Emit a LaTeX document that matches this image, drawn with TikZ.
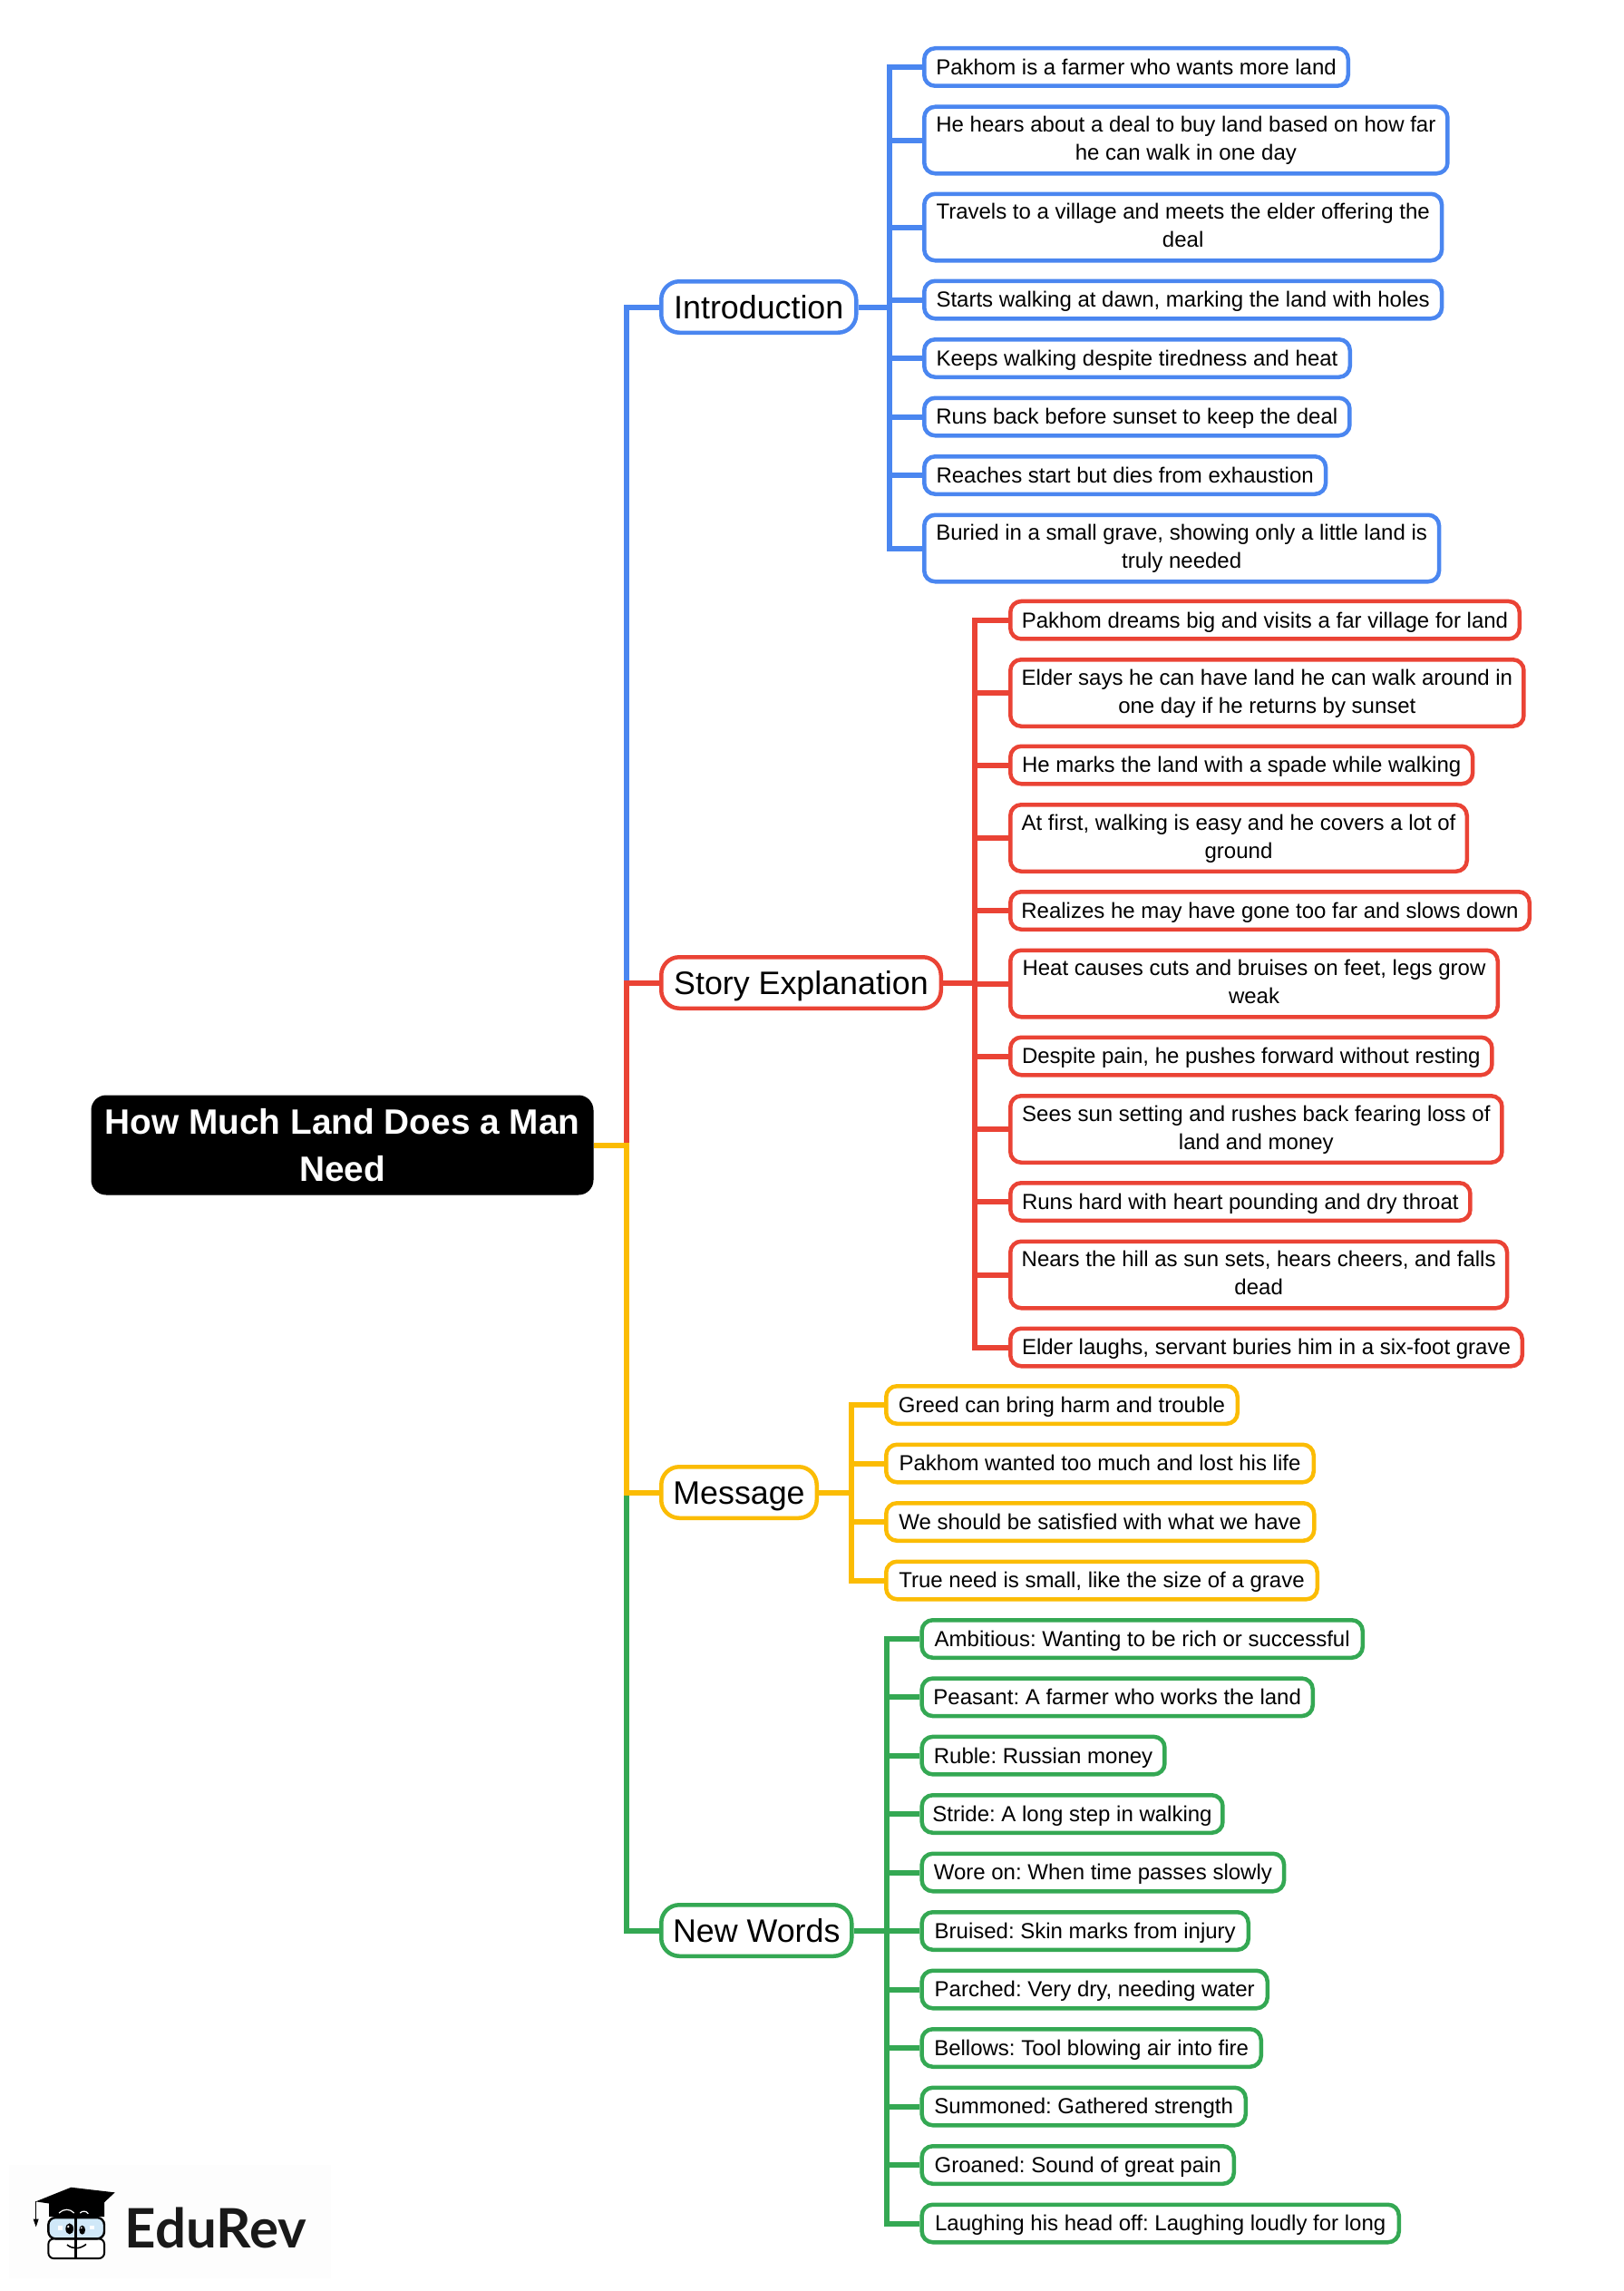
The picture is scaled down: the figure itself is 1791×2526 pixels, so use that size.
\documentclass[tikz,border=0pt]{standalone}
\usepackage{fontspec}
\setmainfont{Liberation Sans}
\newfontfamily\logofont{Lato}
\definecolor{cblue}{HTML}{4A86F0}
\definecolor{cred}{HTML}{EA4335}
\definecolor{cyellow}{HTML}{FBBC04}
\definecolor{cgreen}{HTML}{34A853}
\definecolor{clens}{HTML}{D0E8F8}
\newcommand{\leafstrut}{\rule[-3.3pt]{0pt}{15pt}}
\newcommand{\branchstrut}{\rule[-4.05pt]{0pt}{21pt}}
\newcommand{\rootstrut}{\rule[-0.1pt]{0pt}{25pt}}
\newcommand{\tworow}[2]{\rule{0pt}{12.66pt}#1\\#2\rule[-5.7pt]{0pt}{6pt}}
\tikzset{
  leafbox/.style={draw=#1,line width=2.25pt,rounded corners=6pt,fill=white,inner sep=0pt,align=center,
    font=\fontsize{12}{15.5}\selectfont\frenchspacing,text=black,execute at begin node=\leafstrut,execute at end node=\leafstrut},
  branchbox/.style={draw=#1,line width=2.25pt,rounded corners=10pt,fill=white,inner sep=0pt,align=center,
    font=\fontsize{17.9}{21}\selectfont,text=black,execute at begin node=\branchstrut,execute at end node=\branchstrut},
  rootbox/.style={draw=black,fill=black,line width=0.5pt,rounded corners=8pt,inner sep=0pt,align=center,
    font=\fontsize{19.4}{25.7}\bfseries\selectfont,text=white,execute at begin node=\rootstrut,execute at end node=\rootstrut},
  conn/.style={line width=3pt,line join=miter}
}
\newcommand{\bx}[8]{% style, colour, name, left, right, top, outer height, text
  \node[#1=#2,minimum width={((#5)-(#4)-4.5)*0.5pt},minimum height={((#7)-4.5)*0.5pt}] (#3) at ({((#4)+(#5))/2},{(#6)+(#7)/2}) {#8};}
\begin{document}
\begin{tikzpicture}[x=0.5pt,y=-0.5pt]
\useasboundingbox (0,0) rectangle (1791,2526);
\coordinate (mainsp) at (691,0);
\coordinate (bsp) at (981,0);
\coordinate (rsp) at (1075,0);
\coordinate (ysp) at (939,0);
\coordinate (gsp) at (978,0);
% root and branches
\node[rootbox,minimum width={553*0.5pt},minimum height={109*0.5pt}] (root) at (377.5,1262.5) {How Much Land Does a Man\\Need};
\bx{branchbox}{cblue}{intro}{727}{946.5}{308}{61}{Introduction}
\bx{branchbox}{cred}{story}{727}{1040}{1053}{61}{Story Explanation}
\bx{branchbox}{cyellow}{message}{727}{903}{1615}{61}{Message}
\bx{branchbox}{cgreen}{words}{727}{941.5}{2098}{61}{New Words}
% blue
\bx{leafbox}{cblue}{b1}{1017}{1489}{51}{46}{Pakhom is a farmer who wants more land}
\bx{leafbox}{cblue}{b2}{1017}{1598.7}{115.5}{78}{\tworow{He hears about a deal to buy land based on how far}{he can walk in one day}}
\bx{leafbox}{cblue}{b3}{1017}{1592.3}{211.5}{78}{\tworow{Travels to a village and meets the elder offering the}{deal}}
\bx{leafbox}{cblue}{b4}{1017}{1592.3}{307.5}{46}{Starts walking at dawn, marking the land with holes}
\bx{leafbox}{cblue}{b5}{1017}{1491}{372}{46}{Keeps walking despite tiredness and heat}
\bx{leafbox}{cblue}{b6}{1017}{1490.7}{436.5}{46}{Runs back before sunset to keep the deal}
\bx{leafbox}{cblue}{b7}{1017}{1464.3}{501}{46}{Reaches start but dies from exhaustion}
\bx{leafbox}{cblue}{b8}{1017}{1589.3}{565.5}{78}{\tworow{Buried in a small grave, showing only a little land is}{truly needed}}
% red
\bx{leafbox}{cred}{r1}{1112}{1678}{660.7}{46}{Pakhom dreams big and visits a far village for land}
\bx{leafbox}{cred}{r2}{1112}{1682.7}{725}{78}{\tworow{Elder says he can have land he can walk around in}{one day if he returns by sunset}}
\bx{leafbox}{cred}{r3}{1112}{1626.4}{820.5}{46}{He marks the land with a spade while walking}
\bx{leafbox}{cred}{r4}{1112}{1620}{885}{78}{\tworow{At first, walking is easy and he covers a lot of}{ground}}
\bx{leafbox}{cred}{r5}{1112}{1689}{981}{46}{Realizes he may have gone too far and slows down}
\bx{leafbox}{cred}{r6}{1112}{1654}{1045.5}{78}{\tworow{Heat causes cuts and bruises on feet, legs grow}{weak}}
\bx{leafbox}{cred}{r7}{1112}{1647.7}{1141.5}{46}{Despite pain, he pushes forward without resting}
\bx{leafbox}{cred}{r8}{1112}{1658.7}{1206}{78}{\tworow{Sees sun setting and rushes back fearing loss of}{land and money}}
\bx{leafbox}{cred}{r9}{1112}{1623.7}{1302}{46}{Runs hard with heart pounding and dry throat}
\bx{leafbox}{cred}{r10}{1112}{1664.3}{1366.5}{78}{\tworow{Nears the hill as sun sets, hears cheers, and falls}{dead}}
\bx{leafbox}{cred}{r11}{1112}{1681}{1462.5}{46}{Elder laughs, servant buries him in a six-foot grave}
% yellow
\bx{leafbox}{cyellow}{y1}{975}{1367}{1526}{46}{Greed can bring harm and trouble}
\bx{leafbox}{cyellow}{y2}{975}{1451}{1590.5}{46}{Pakhom wanted too much and lost his life}
\bx{leafbox}{cyellow}{y3}{975}{1451.5}{1655}{46}{We should be satisfied with what we have}
\bx{leafbox}{cyellow}{y4}{975}{1455}{1719.5}{46}{True need is small, like the size of a grave}
% green
\bx{leafbox}{cgreen}{g1}{1014.4}{1505}{1784}{46}{Ambitious: Wanting to be rich or successful}
\bx{leafbox}{cgreen}{g2}{1014.4}{1450}{1848.3}{46}{Peasant: A farmer who works the land}
\bx{leafbox}{cgreen}{g3}{1014.4}{1286.7}{1912.6}{46}{Ruble: Russian money}
\bx{leafbox}{cgreen}{g4}{1014.4}{1350.7}{1977}{46}{Stride: A long step in walking}
\bx{leafbox}{cgreen}{g5}{1014.4}{1418.3}{2041.5}{46}{Wore on: When time passes slowly}
\bx{leafbox}{cgreen}{g6}{1014.4}{1379}{2106}{46}{Bruised: Skin marks from injury}
\bx{leafbox}{cgreen}{g7}{1014.4}{1400}{2170.5}{46}{Parched: Very dry, needing water}
\bx{leafbox}{cgreen}{g8}{1014.4}{1393}{2235}{46}{Bellows: Tool blowing air into fire}
\bx{leafbox}{cgreen}{g9}{1014.4}{1376}{2299.5}{46}{Summoned: Gathered strength}
\bx{leafbox}{cgreen}{g10}{1014.4}{1363}{2364}{46}{Groaned: Sound of great pain}
\bx{leafbox}{cgreen}{g11}{1014.4}{1545}{2428.5}{46}{Laughing his head off: Laughing loudly for long}
% connectors
\draw[conn,cblue] (root.east) -- (mainsp |- root.east) |- (intro.west);
\draw[conn,cred] (root.east) -- (mainsp |- root.east) |- (story.west);
\draw[conn,cgreen] (root.east) -- (mainsp |- root.east) |- (words.west);
\draw[conn,cyellow] (root.east) -- (mainsp |- root.east) |- (message.west);
\draw[conn,cblue] (intro.east) -- (bsp |- intro.east);
\foreach \n in {b1,b2,b3,b4,b5,b6,b7,b8} \draw[conn,cblue] (bsp |- intro.east) |- (\n.west);
\draw[conn,cred] (story.east) -- (rsp |- story.east);
\foreach \n in {r1,r2,r3,r4,r5,r6,r7,r8,r9,r10,r11} \draw[conn,cred] (rsp |- story.east) |- (\n.west);
\draw[conn,cyellow] (message.east) -- (ysp |- message.east);
\foreach \n in {y1,y2,y3,y4} \draw[conn,cyellow] (ysp |- message.east) |- (\n.west);
\draw[conn,cgreen] (words.east) -- (gsp |- words.east);
\foreach \n in {g1,g2,g3,g4,g5,g6,g7,g8,g9,g10,g11} \draw[conn,cgreen] (gsp |- words.east) |- (\n.west);
% logo
\begin{scope}[shift={(0,2340)},x=0.1667pt,y=-0.1667pt]
\fill[black!0.7] (30,140) rectangle (1095,515);
\draw[black,line width=1pt,rounded corners=3pt,fill=white] (160,385) rectangle (345,450);
\draw[black,line width=1.2pt,rounded corners=4pt,fill=clens] (160,315) rectangle (345,385);
\fill[black] (162,262) -- (162,312) -- (345,312) -- (345,250) -- cycle;
\fill[black] (118,262) -- (235,215) -- (380,232) -- (310,297) -- (160,268) -- cycle;
\draw[white,line width=0.6pt] (195,300) .. controls (210,285) and (232,285) .. (245,300);
\draw[white,line width=0.6pt] (265,300) .. controls (272,292) and (285,292) .. (292,302);
\draw[black,line width=0.5pt] (118,262) -- (118,320);
\fill[black] (110,320) -- (128,320) -- (119,346) -- cycle;
\draw[black,line width=1.2pt] (250,312) -- (250,450);
\fill[black] (230,352) ellipse [x radius=13,y radius=18];
\fill[black] (272,356) ellipse [x radius=10,y radius=15];
\fill[white] (226,345) circle (4);
\fill[white] (269,349) circle (3);
\fill[white] (193,343) rectangle (207,357);
\fill[white] (298,341) rectangle (312,355);
\draw[black,line width=0.8pt] (222,405) .. controls (240,420) and (265,420) .. (285,403);
\node[anchor=base west,inner sep=0pt,font=\logofont\bfseries\fontsize{30}{32}\selectfont,text=black!90] (logo) at (412,415) {EduRev};
\end{scope}
\end{tikzpicture}
\end{document}
